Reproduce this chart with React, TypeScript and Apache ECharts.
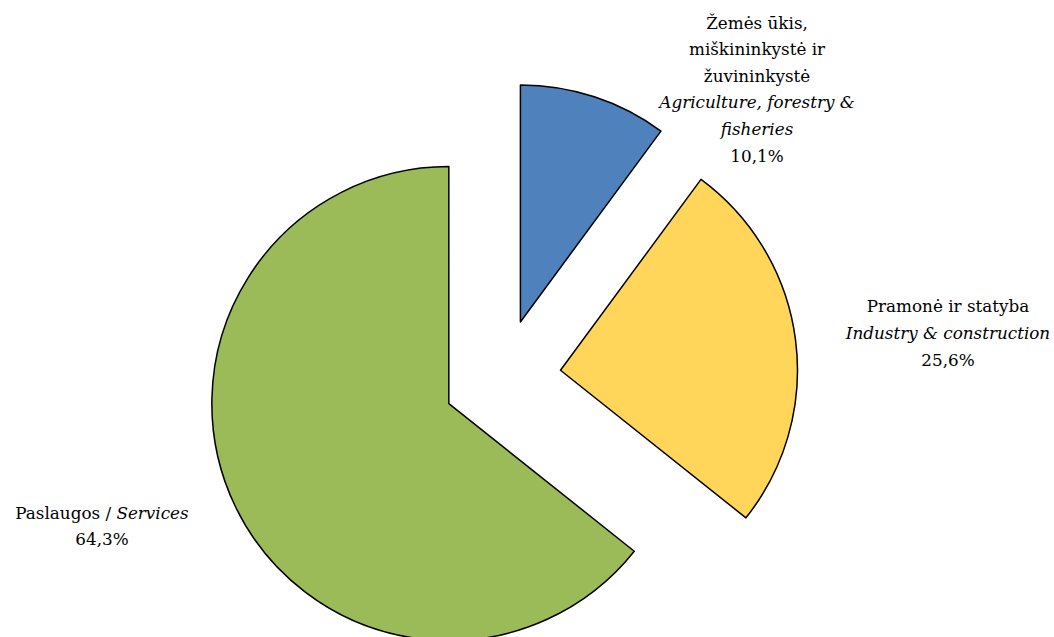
import React, { useEffect, useRef } from "react";
import * as echarts from "echarts";

const names = ["Agriculture", "Industry", "Services"];
const values = [10.1, 25.6, 64.3];
const colors = ["#4F81BD", "#FFD55A", "#9BBB59"];
const ltNames = [
  ["Žemės ūkis,", "miškininkystė ir", "žuvininkystė"],
  ["Pramonė ir statyba"],
  ["Paslaugos / "],
];
const enNames = [["Agriculture, forestry &", "fisheries"], ["Industry & construction"], ["Services"]];
const labelPos = [
  [757, 89],
  [948, 333],
  [102, 526],
];

function fmt(v: number) {
  return v.toFixed(1).replace(".", ",") + "%";
}

function labelText(i: number) {
  const v = fmt(values[i]);
  if (i === 2) {
    return `{n|${ltNames[2][0]}}{i|${enNames[2][0]}}\n{n|${v}}`;
  }
  const lines: string[] = [];
  ltNames[i].forEach((l) => lines.push(`{n|${l}}`));
  enNames[i].forEach((l) => lines.push(`{i|${l}}`));
  lines.push(`{n|${v}}`);
  return lines.join("\n");
}

export default function App() {
  const ref = useRef<HTMLDivElement>(null);
  useEffect(() => {
    document.body.style.margin = "0";
    const chart = echarts.init(ref.current!, null, { renderer: "svg" });
    const font = "'DejaVu Serif', serif";
    const lh = 26.6;
    const fs = 16.8;
    chart.setOption({
      animation: false,
      backgroundColor: "#ffffff",
      graphic: values.map((_, i) => ({
        type: "text",
        x: labelPos[i][0],
        y: labelPos[i][1],
        z: 10,
        style: {
          text: labelText(i),
          align: "center",
          verticalAlign: "middle",
          textAlign: "center",
          textVerticalAlign: "middle",
          lineHeight: lh,
          fill: "#000",
          rich: {
            n: { fontFamily: font, fontSize: fs, fill: "#000", lineHeight: lh },
            i: { fontFamily: font, fontSize: fs, fontStyle: "italic", fill: "#000", lineHeight: lh },
          },
        },
      })),
      series: [
        {
          type: "pie",
          center: [502, 378],
          radius: 237,
          startAngle: 90,
          clockwise: true,
          selectedMode: "multiple",
          selectedOffset: 59,
          emphasis: { disabled: true },
          itemStyle: { borderColor: "#000000", borderWidth: 1.5 },
          labelLine: { show: false },
          label: { show: false },
          data: names.map((n, i) => ({
            name: n,
            value: values[i],
            selected: true,
            itemStyle: { color: colors[i] },
          })),
        },
      ],
    });
    return () => chart.dispose();
  }, []);
  return <div ref={ref} style={{ width: 1054, height: 637 }} />;
}
